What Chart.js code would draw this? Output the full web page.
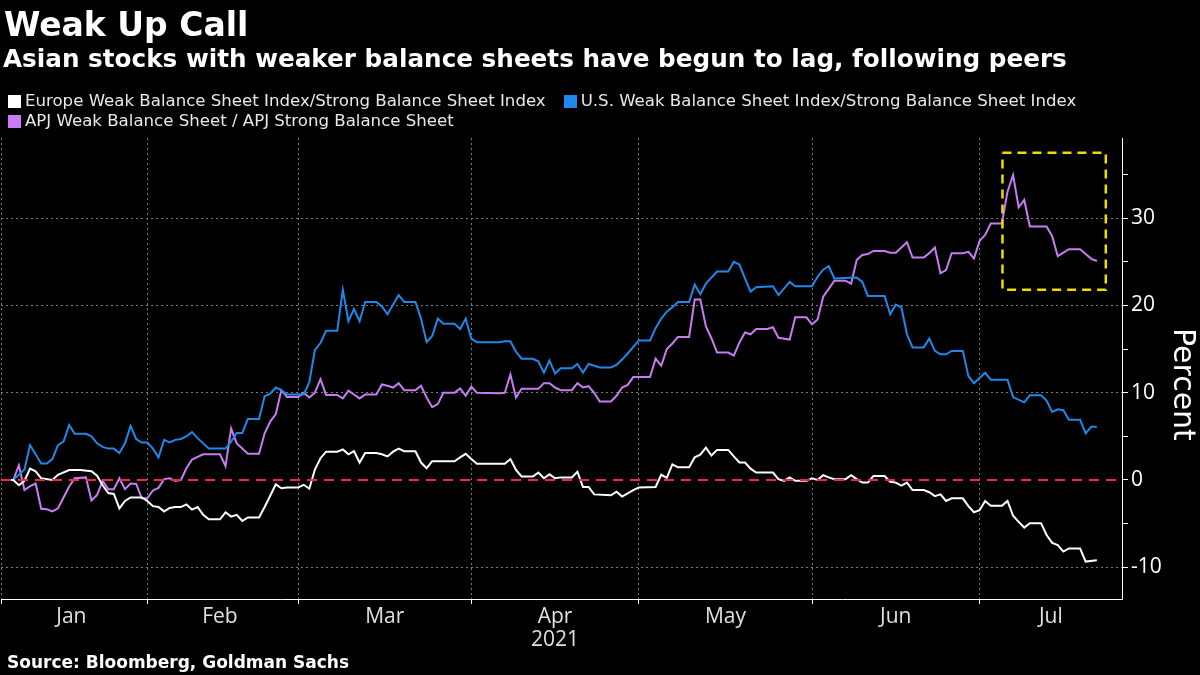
<!DOCTYPE html>
<html>
<head>
<meta charset="utf-8">
<script src="https://cdn.jsdelivr.net/npm/chart.js@4.4.0/dist/chart.umd.min.js"></script>
<style>
  html, body { margin: 0; padding: 0; background: #000; }
  #wrap { position: relative; width: 1200px; height: 675px; overflow: hidden; background: #000; font-family: "DejaVu Sans", sans-serif; color: #fff; }
  #title    { position: absolute; left: 4px; top: 5px;    font-size: 33px;   font-weight: 700; line-height: 40px; white-space: nowrap; }
  #subtitle { position: absolute; left: 3px; top: 42.5px; font-size: 24.7px; font-weight: 700; line-height: 32px; white-space: nowrap; }
  #source   { position: absolute; left: 7px; top: 651px;  font-size: 17px;   font-weight: 700; line-height: 22px; white-space: nowrap; }
  #legend   { position: absolute; left: 8px; top: 91px; font-size: 16.6px; line-height: 20px; color: #e8e8e8; }
  #legend .row  { display: flex; align-items: center; height: 20px; }
  #legend .item { display: flex; align-items: center; margin-right: 18px; white-space: nowrap; }
  #legend .sw   { width: 13px; height: 13px; margin-right: 4px; flex: none; }
  #ytitle   { position: absolute; left: 1166px; top: 328px; writing-mode: vertical-rl; font-size: 30px; line-height: 36px; white-space: nowrap; }
  canvas { position: absolute; left: 0; top: 0; }
</style>
</head>
<body>
<div id="wrap">
  <canvas id="chart" width="1200" height="675"></canvas>
  <div id="title">Weak Up Call</div>
  <div id="subtitle">Asian stocks with weaker balance sheets have begun to lag, following peers</div>
  <div id="legend"></div>
  <div id="ytitle">Percent</div>
  <div id="source">Source: Bloomberg, Goldman Sachs</div>
</div>
<script>
/* ── Weak Up Call — weak / strong balance sheet ratios, 2021 ─────────────────── */

// x values are day-of-year 2021 (Jan 1 = 0)
const X_MIN = 5.8;
const X_MAX = 206.5;

// ── Series ────────────────────────────────────────────────────────────────────
const europeDays = [6, 8, 9, 10, 11, 12, 13, 15, 16, 18, 20, 22, 23, 24, 25, 26, 27, 28, 29, 31, 32, 33, 34, 35, 36, 37, 38, 39, 40, 41, 42, 43, 45, 46, 47, 48, 49, 50, 52, 53, 54, 55, 56, 57, 59, 60, 61, 62, 63, 64, 66, 67, 68, 69, 70, 71, 73, 74, 75, 76, 77, 78, 80, 81, 82, 83, 87, 88, 89, 90, 91, 96, 97, 98, 99, 101, 102, 103, 104, 105, 106, 108, 109, 110, 111, 112, 115, 116, 117, 119, 120, 123, 124, 125, 126, 127, 129, 130, 131, 132, 133, 134, 136, 137, 138, 139, 140, 141, 144, 145, 146, 147, 148, 150, 151, 152, 153, 154, 155, 157, 158, 159, 160, 161, 162, 164, 165, 166, 167, 168, 169, 171, 172, 173, 174, 175, 176, 178, 179, 180, 181, 182, 183, 185, 186, 187, 188, 189, 190, 192, 193, 194, 195, 196, 197, 199, 200, 202];
const europeVals = [0, 0, -0.6, -0.1, 1.3, 1.0, 0.2, 0, 0.6, 1.15, 1.15, 1.0, 0.5, -0.6, -1.5, -1.6, -3.25, -2.4, -2.0, -2.0, -2.4, -3.0, -3.1, -3.6, -3.2, -3.1, -3.1, -2.8, -3.4, -3.1, -4.0, -4.5, -4.5, -3.7, -4.2, -4.0, -4.7, -4.3, -4.3, -3.1, -1.8, -0.5, -0.95, -0.85, -0.85, -0.55, -1.0, 1.2, 2.5, 3.25, 3.25, 3.5, 2.95, 3.3, 2.0, 3.1, 3.1, 2.95, 2.7, 3.25, 3.6, 3.3, 3.3, 2.0, 1.35, 2.15, 2.15, 2.6, 3.0, 2.4, 1.85, 1.85, 2.4, 1.15, 0.4, 0.4, 0.85, 0.2, 0.65, 0.2, 0.3, 0.3, 0.95, -0.8, -0.8, -1.65, -1.75, -1.35, -1.9, -1.15, -0.85, -0.8, 0.6, 0.25, 1.8, 1.45, 1.45, 2.6, 2.9, 3.7, 2.8, 3.45, 3.45, 2.7, 2.0, 2.0, 1.3, 0.85, 0.85, 0.1, -0.1, 0.3, -0.1, -0.1, 0.2, 0, 0.55, 0.3, 0.1, 0.1, 0.55, 0.1, -0.3, -0.3, 0.45, 0.45, -0.2, -0.3, -0.65, -0.3, -1.15, -1.15, -1.4, -1.85, -1.65, -2.4, -2.1, -2.1, -3.0, -3.7, -3.45, -2.4, -2.95, -2.95, -2.4, -4.1, -4.8, -5.45, -4.95, -4.95, -6.3, -7.2, -7.45, -8.2, -7.85, -7.85, -9.35, -9.2];

const usDays = [6, 8, 9, 10, 11, 13, 14, 15, 16, 17, 18, 19, 21, 22, 23, 24, 25, 26, 27, 28, 29, 30, 31, 32, 33, 34, 35, 36, 37, 38, 39, 40, 41, 42, 43, 46, 47, 48, 49, 50, 52, 53, 54, 55, 56, 57, 60, 61, 62, 63, 64, 66, 67, 68, 69, 70, 71, 73, 74, 75, 77, 78, 80, 81, 82, 83, 84, 85, 87, 88, 89, 90, 91, 95, 96, 97, 98, 99, 101, 102, 103, 104, 105, 106, 108, 109, 110, 111, 113, 115, 116, 117, 118, 120, 122, 123, 124, 125, 126, 127, 129, 130, 131, 132, 134, 136, 137, 138, 139, 140, 141, 144, 145, 147, 148, 151, 152, 153, 154, 155, 159, 160, 161, 164, 165, 166, 167, 168, 169, 171, 172, 173, 174, 175, 176, 178, 179, 180, 182, 183, 186, 187, 189, 190, 192, 193, 194, 195, 196, 197, 199, 200, 201, 202];
const usVals = [0, 0, 0.6, 1.2, 4.0, 1.9, 1.9, 2.4, 4.0, 4.4, 6.3, 5.3, 5.3, 5.0, 4.2, 3.8, 3.6, 3.6, 3.1, 4.2, 6.2, 4.7, 4.3, 4.3, 3.6, 2.6, 4.6, 4.3, 4.6, 4.7, 5.0, 5.5, 4.8, 4.2, 3.6, 3.6, 4.4, 5.4, 5.4, 7.0, 7.0, 9.6, 9.9, 10.6, 10.3, 9.8, 9.8, 11.2, 14.9, 15.7, 17.1, 17.1, 21.8, 18.2, 19.6, 18.2, 20.4, 20.4, 19.9, 19.0, 21.2, 20.4, 20.4, 18.5, 15.8, 16.5, 18.5, 17.9, 17.9, 17.3, 18.5, 16.2, 15.8, 15.8, 15.9, 15.9, 14.7, 13.9, 13.9, 13.6, 12.3, 13.7, 12.2, 12.8, 12.8, 13.3, 12.3, 13.3, 12.9, 12.9, 13.2, 13.8, 14.5, 16.0, 16.0, 17.4, 18.5, 19.3, 19.8, 20.4, 20.4, 22.4, 21.3, 22.5, 23.9, 23.9, 25.0, 24.7, 23.1, 21.6, 22.1, 22.2, 21.2, 22.7, 22.2, 22.2, 23.3, 24.1, 24.5, 23.1, 23.2, 22.7, 21.1, 21.1, 19.0, 20.1, 19.8, 16.7, 15.2, 15.2, 16.2, 14.8, 14.4, 14.4, 14.8, 14.8, 11.9, 11.1, 12.3, 11.5, 11.5, 9.5, 8.9, 9.7, 9.7, 9.1, 7.8, 8.1, 8.0, 6.9, 6.9, 5.35, 6.1, 6.1];

const apjDays = [6, 8, 9, 10, 11, 12, 13, 14, 15, 16, 17, 18, 19, 21, 22, 23, 24, 25, 26, 27, 28, 29, 30, 31, 32, 33, 34, 35, 36, 37, 38, 39, 40, 41, 42, 45, 46, 47, 48, 49, 50, 52, 53, 54, 55, 56, 57, 59, 60, 61, 62, 63, 64, 66, 67, 68, 69, 70, 71, 73, 74, 75, 76, 77, 78, 80, 81, 82, 83, 84, 85, 87, 88, 89, 90, 91, 95, 96, 97, 98, 99, 102, 103, 104, 105, 106, 108, 109, 110, 111, 112, 113, 115, 116, 117, 118, 119, 122, 123, 124, 125, 126, 127, 129, 130, 131, 132, 133, 134, 136, 137, 138, 139, 140, 141, 143, 144, 145, 147, 148, 150, 151, 152, 153, 154, 155, 157, 158, 159, 160, 161, 162, 164, 165, 166, 167, 168, 169, 171, 172, 173, 174, 175, 176, 178, 179, 180, 181, 182, 183, 185, 186, 187, 188, 189, 190, 193, 194, 195, 197, 199, 200, 201, 202];
const apjVals = [0, 0, 1.7, -1.15, -0.7, -0.4, -3.3, -3.35, -3.6, -3.25, -2.0, -0.75, 0.2, 0.3, -2.35, -1.7, -0.1, -1.05, -1.05, 0.2, -1.05, -0.4, -0.45, -2.1, -2.1, -1.2, -0.9, 0.1, 0.2, -0.1, 0, 1.35, 2.35, 2.65, 2.95, 2.95, 1.6, 5.9, 4.2, 3.6, 3.0, 3.0, 5.35, 6.7, 7.55, 10.3, 9.5, 9.5, 10.0, 9.45, 10.0, 11.55, 9.75, 9.75, 9.35, 10.25, 9.8, 9.35, 9.8, 9.8, 10.95, 10.8, 10.6, 11.1, 10.3, 10.3, 10.8, 9.45, 8.35, 8.7, 10.0, 10.0, 10.5, 9.65, 10.7, 10.0, 9.95, 10.0, 12.1, 9.45, 10.45, 10.45, 11.1, 11.1, 10.6, 10.3, 10.3, 11.1, 10.6, 10.75, 10.0, 9.0, 9.0, 9.65, 10.6, 10.9, 11.8, 11.8, 13.9, 13.1, 15.0, 15.65, 16.4, 16.4, 20.7, 20.7, 17.6, 16.25, 14.6, 14.6, 14.25, 15.75, 16.9, 16.7, 17.3, 17.3, 17.5, 16.3, 16.1, 18.65, 18.65, 17.85, 18.4, 21.0, 21.9, 22.85, 22.85, 22.5, 25.2, 25.8, 25.9, 26.25, 26.25, 26.05, 26.05, 26.65, 27.25, 25.5, 25.5, 26.0, 26.65, 23.7, 24.05, 26.0, 26.0, 26.15, 25.4, 27.4, 28.1, 29.4, 29.4, 33.05, 34.95, 31.25, 32.1, 29.05, 29.05, 27.95, 25.65, 26.45, 26.45, 25.9, 25.35, 25.1];

// highlight box round the recent APJ move
const boxDays = [185.1, 203.6, 203.6, 185.1, 185.1];
const boxVals = [37.5, 37.5, 21.8, 21.8, 37.5];

// ── Axis ticks ────────────────────────────────────────────────────────────────
const monthStarts = [X_MIN, 32, 59, 90, 120, 151, 181];
const monthMids   = [18.4, 45, 74.5, 105, 135.5, 166, 193.75];
const monthLabels = ['Jan', 'Feb', 'Mar', ['Apr', '2021'], 'May', 'Jun', 'Jul'];

const Y_MIN = -13.64;
const Y_MAX = 39.2;

const LEGEND = [
  'Europe Weak Balance Sheet Index/Strong Balance Sheet Index',
  'U.S. Weak Balance Sheet Index/Strong Balance Sheet Index',
  'APJ Weak Balance Sheet / APJ Strong Balance Sheet',
];
const LEGEND_ROWS = [[0, 1], [2]];

const COLORS = { europe: '#ffffff', us: '#1f88e8', apj: '#c87cf2', zero: '#f2283e', box: '#ecdc00', grid: '#7a7a7a' };
const SERIES_COLORS = [COLORS.europe, COLORS.us, COLORS.apj];

// ── Legend (html) ─────────────────────────────────────────────────────────────
const legendEl = document.getElementById('legend');
LEGEND_ROWS.forEach(row => {
  const r = document.createElement('div');
  r.className = 'row';
  row.forEach(i => {
    const item = document.createElement('div');
    item.className = 'item';
    const sw = document.createElement('span');
    sw.className = 'sw';
    sw.style.background = SERIES_COLORS[i];
    item.appendChild(sw);
    item.appendChild(document.createTextNode(LEGEND[i]));
    r.appendChild(item);
  });
  legendEl.appendChild(r);
});

const toPoints = (days, vals) => days.map((d, i) => ({ x: d, y: vals[i] }));

function lineSet(label, days, vals, color) {
  return {
    label,
    data           : toPoints(days, vals),
    borderColor    : color,
    backgroundColor: color,
    borderWidth    : 2,
    pointRadius    : 0,
    tension        : 0,
  };
}

// ── Chart ─────────────────────────────────────────────────────────────────────
new Chart(document.getElementById('chart'), {
  type: 'line',
  data: {
    datasets: [
      lineSet(LEGEND[0], europeDays, europeVals, COLORS.europe),
      lineSet(LEGEND[1], usDays, usVals, COLORS.us),
      lineSet(LEGEND[2], apjDays, apjVals, COLORS.apj),
      {
        label: 'zero',
        data: [{ x: X_MIN, y: 0 }, { x: X_MAX, y: 0 }],
        borderColor: COLORS.zero, borderWidth: 2, borderDash: [10, 7],
        pointRadius: 0, order: -1,
      },
      {
        label: 'box',
        data: toPoints(boxDays, boxVals),
        borderColor: COLORS.box, borderWidth: 2.5, borderDash: [9, 6],
        pointRadius: 0, order: -2,
      },
    ],
  },
  options: {
    responsive: false,
    animation : false,
    layout    : { padding: { top: 138, left: 0, right: 0, bottom: 0 } },
    plugins   : {
      tooltip: { enabled: false },
      legend : { display: false },
    },
    scales: {
      x: {
        type: 'linear',
        min : X_MIN,
        max : X_MAX,
        afterBuildTicks: scale => {
          scale.ticks = [...monthStarts, ...monthMids].sort((a, b) => a - b).map(v => ({ value: v }));
        },
        afterFit: scale => { scale.height = 76; },
        ticks: {
          autoSkip: false, maxRotation: 0, padding: 1,
          color: '#e0e0e0',
          font : { family: 'Open Sans', size: 21, lineHeight: 1.1 },
          callback: value => {
            const i = monthMids.indexOf(value);
            return i >= 0 ? monthLabels[i] : '';
          },
        },
        grid: {
          color    : c => monthStarts.includes(c.tick && c.tick.value) ? COLORS.grid : 'transparent',
          tickColor: c => monthStarts.includes(c.tick && c.tick.value) ? '#ffffff' : 'transparent',
          tickLength: 5,
          lineWidth: 1,
        },
        border: { display: true, color: '#ffffff', width: 1, dash: [2, 3] },
      },
      y: {
        position: 'right',
        min: Y_MIN,
        max: Y_MAX,
        afterFit: scale => { scale.width = 78; },
        ticks: {
          stepSize: 5, includeBounds: false, padding: 3,
          color: '#ffffff',
          font : { family: 'Open Sans', size: 21 },
          callback: v => (v % 10 === 0 ? String(v) : ''),
        },
        grid: {
          color    : c => (c.tick && c.tick.value % 10 === 0 && c.tick.value !== 0) ? COLORS.grid : 'transparent',
          tickColor: '#ffffff',
          tickLength: 6,
          lineWidth: 1,
        },
        border: { display: true, color: '#ffffff', width: 1, dash: [2, 3] },
      },
    },
  },
});
</script>
</body>
</html>
